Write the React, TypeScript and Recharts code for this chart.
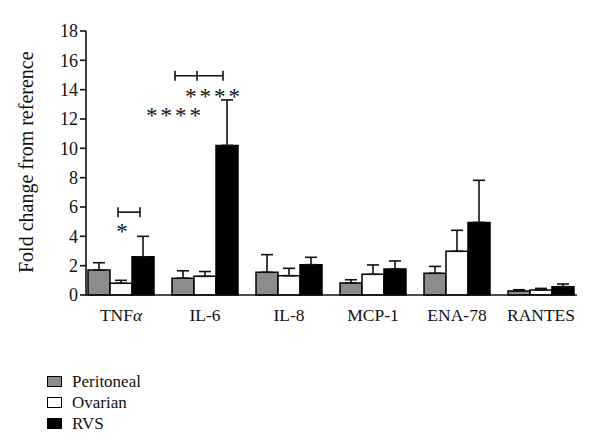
import React from 'react';
import { BarChart, Bar, XAxis, YAxis, ErrorBar } from 'recharts';

const categories = ['TNFα', 'IL-6', 'IL-8', 'MCP-1', 'ENA-78', 'RANTES'];
const peritoneal = [1.7, 1.15, 1.55, 0.82, 1.48, 0.27];
const peritonealErr = [0.5, 0.5, 1.2, 0.22, 0.47, 0.09];
const ovarian = [0.8, 1.27, 1.32, 1.41, 2.98, 0.34];
const ovarianErr = [0.2, 0.33, 0.5, 0.64, 1.43, 0.11];
const rvs = [2.6, 10.2, 2.07, 1.77, 4.95, 0.57];
const rvsErr = [1.4, 3.1, 0.5, 0.55, 2.87, 0.18];
const yTicks = [0, 2, 4, 6, 8, 10, 12, 14, 16, 18];
const seriesNames = ['Peritoneal', 'Ovarian', 'RVS'];
const seriesFills = ['#8c8c8c', '#ffffff', '#000000'];

const FONT = '"Liberation Serif", "DejaVu Serif", serif';
const INK = '#111111';

const W = 600;
const H = 445;
const AXIS_X = 86;
const X_AXIS_H = 40;
const PLOT_TOP = 31;
const PLOT_BOTTOM = 295;
const RIGHT = 23;
const PAD_L = -7;
const PAD_R = -6;
const Y_MAX = 18;

const data = categories.map((name, i) => ({
  name,
  peritoneal: peritoneal[i],
  peritonealErr: [0, peritonealErr[i]],
  ovarian: ovarian[i],
  ovarianErr: [0, ovarianErr[i]],
  rvs: rvs[i],
  rvsErr: [0, rvsErr[i]],
}));

// geometry helpers for the significance marks
const bandStart = AXIS_X + PAD_L;
const band = (W - RIGHT - AXIS_X - PAD_L - PAD_R) / categories.length;
const xCenter = (cat: number) => bandStart + band * cat + band / 2;
const yOf = (v: number) => PLOT_BOTTOM - (v / Y_MAX) * (PLOT_BOTTOM - PLOT_TOP);

const CategoryTick = (props: any) => {
  const { x, y, payload } = props;
  const label: string = payload.value;
  const hasAlpha = label.endsWith('α');
  return (
    <text x={x} y={y + 18} textAnchor="middle" fontFamily={FONT} fontSize={17.5} fill={INK}>
      {hasAlpha ? (
        <>
          {label.slice(0, -1)}
          <tspan fontStyle="italic">α</tspan>
        </>
      ) : (
        label
      )}
    </text>
  );
};

const LegendBox = () => (
  <div style={{ position: 'absolute', left: 47, top: 371, fontFamily: FONT, fontSize: 17, color: INK }}>
    {seriesNames.map((label, i) => (
      <div key={label} style={{ display: 'flex', alignItems: 'center', height: 21 }}>
        <span
          style={{
            display: 'inline-block',
            width: 13,
            height: 9,
            background: seriesFills[i],
            border: '1px solid #000',
            marginRight: 10,
          }}
        />
        <span>{label}</span>
      </div>
    ))}
  </div>
);

const Significance = () => {
  const t = xCenter(0);
  const i6 = xCenter(1);
  const by1 = yOf(5.65);
  const by2 = yOf(14.95);
  const cap = 5;
  const starStyle = { fontFamily: FONT, fontSize: 23, fill: INK };
  return (
    <svg width={W} height={H} style={{ position: 'absolute', left: 0, top: 0, pointerEvents: 'none' }}>
      <g stroke={INK} strokeWidth={1.6}>
        <line x1={t - 3} x2={t + 19} y1={by1} y2={by1} />
        <line x1={t - 3} x2={t - 3} y1={by1 - cap} y2={by1 + cap} />
        <line x1={t + 19} x2={t + 19} y1={by1 - cap} y2={by1 + cap} />
        <line x1={i6 - 30} x2={i6 + 18} y1={by2} y2={by2} />
        <line x1={i6 - 30} x2={i6 - 30} y1={by2 - cap} y2={by2 + cap} />
        <line x1={i6 - 8} x2={i6 - 8} y1={by2 - cap} y2={by2 + cap} />
        <line x1={i6 + 18} x2={i6 + 18} y1={by2 - cap} y2={by2 + cap} />
      </g>
      <text x={t + 1} y={yOf(4.6) + 11} textAnchor="middle" {...starStyle}>*</text>
      <text x={i6 - 20} y={yOf(13.8) + 11} textAnchor="start" letterSpacing={3} {...starStyle}>****</text>
      <text x={i6 - 59} y={yOf(12.45) + 11} textAnchor="start" letterSpacing={3} {...starStyle}>****</text>
    </svg>
  );
};

export default function App() {
  return (
    <div style={{ position: 'absolute', left: 0, top: 0, width: W, height: H, background: '#fff' }}>
      <BarChart
        width={W}
        height={H}
        data={data}
        margin={{ top: PLOT_TOP, right: RIGHT, bottom: H - PLOT_BOTTOM - X_AXIS_H, left: 0 }}
        barCategoryGap={9}
        barGap={0}
      >
        <XAxis
          dataKey="name"
          height={X_AXIS_H}
          padding={{ left: PAD_L, right: PAD_R }}
          axisLine={{ stroke: INK, strokeWidth: 1.6 }}
          tickLine={false}
          tick={<CategoryTick />}
          interval={0}
        />
        <YAxis
          width={AXIS_X}
          domain={[0, Y_MAX]}
          ticks={yTicks}
          interval={0}
          axisLine={{ stroke: INK, strokeWidth: 1.6 }}
          tickLine={{ stroke: INK, strokeWidth: 1.6 }}
          tickSize={6}
          tick={{ fontFamily: FONT, fontSize: 18, fill: INK }}
          label={{
            value: 'Fold change from reference',
            angle: -90,
            position: 'insideLeft',
            dx: 21,
            dy: 110,
            style: { fontFamily: FONT, fontSize: 20, fill: INK },
          }}
        />
        <Bar dataKey="peritoneal" fill={seriesFills[0]} stroke="#000" strokeWidth={1.5} isAnimationActive={false}>
          <ErrorBar dataKey="peritonealErr" width={6} stroke={INK} strokeWidth={1.6} isAnimationActive={false} />
        </Bar>
        <Bar dataKey="ovarian" fill={seriesFills[1]} stroke="#000" strokeWidth={1.5} isAnimationActive={false}>
          <ErrorBar dataKey="ovarianErr" width={6} stroke={INK} strokeWidth={1.6} isAnimationActive={false} />
        </Bar>
        <Bar dataKey="rvs" fill={seriesFills[2]} stroke="#000" strokeWidth={1.5} isAnimationActive={false}>
          <ErrorBar dataKey="rvsErr" width={6} stroke={INK} strokeWidth={1.6} isAnimationActive={false} />
        </Bar>
      </BarChart>
      <Significance />
      <LegendBox />
    </div>
  );
}
